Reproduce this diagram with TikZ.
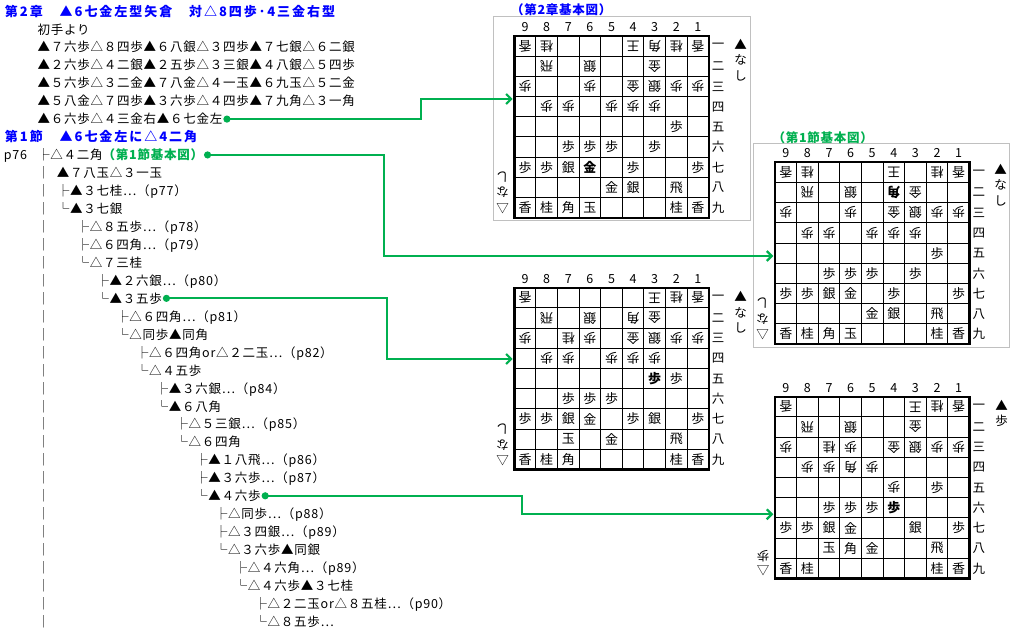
\documentclass[tikz,border=0pt]{standalone}
\usepackage{fontspec}
\setmainfont{Noto Sans CJK JP}
\newfontfamily\tx{Noto Sans CJK JP}[LetterSpace=6]
\newfontfamily\hd{Noto Sans CJK JP}[LetterSpace=15]
\usetikzlibrary{arrows.meta}
\definecolor{ttlblue}{RGB}{0,0,255}
\definecolor{lnkgreen}{RGB}{0,176,80}
\definecolor{framegray}{RGB}{192,192,192}
\newcommand\rowy[1]{16.1+17.95*#1}
\newcommand\lx[1]{37.2+19.75*#1}
\tikzset{
  every node/.style={inner sep=0pt, outer sep=0pt},
  txt/.style={anchor=base west, font=\tx\fontsize{12.5}{15}\selectfont},
  hdr/.style={anchor=base west, text=ttlblue, font=\hd\bfseries\fontsize{13}{15}\selectfont},
  grn/.style={anchor=base west, text=lnkgreen, font=\tx\bfseries\fontsize{12.5}{15}\selectfont},
  btitle/.style={anchor=base west, font=\tx\bfseries\fontsize{12.5}{15}\selectfont},
  pc/.style={font=\fontsize{13}{13}\selectfont},
  pcb/.style={font=\bfseries\fontsize{13}{13}\selectfont},
  lbl/.style={font=\fontsize{12.5}{13}\selectfont},
  gridln/.style={line width=1pt},
  boardln/.style={line width=2.4pt},
  frm/.style={draw=framegray, line width=1pt},
  conn/.style={draw=lnkgreen, line width=2.2pt, -{Straight Barb[length=5pt,width=10pt]}},
  gdot/.style={fill=lnkgreen},
}
\newcommand\shogiban[3]{%
\begin{scope}[shift={(#2,#3)}]
 \foreach \i in {1,...,8}{
  \draw[gridln] ({\i*21.6},0) -- ({\i*21.6},181.8);
  \draw[gridln] (0,{\i*20.2}) -- (194.4,{\i*20.2});
 }
 \draw[boardln] (0,0) rectangle (194.4,181.8);
 \foreach \cn [count=\k] in {9,8,7,6,5,4,3,2,1}
   \node[lbl] (#1c\cn) at ({(\k-0.5)*21.6},-9) {\cn};
 \foreach \rn [count=\k] in {一,二,三,四,五,六,七,八,九}
   \node[lbl] (#1r\k) at (203.8,{(\k-0.5)*20.2}) {\rn};
\end{scope}}
\newcommand\koma[5]{%
 \foreach \xc/\yr/\kj in {#5}
  \node[pc, rotate=#4] (#1p\xc\yr) at ({#2+(9.5-\xc)*21.6},{#3+(\yr-0.5)*20.2}) {\kj};}
\begin{document}
\begin{tikzpicture}[x=1pt,y=-1pt]
\fill[white] (0,0) rectangle (1015,631);
\useasboundingbox (0,0) rectangle (1015,631);

% ---------- left text ----------
\node[hdr] (h0) at (5,{\rowy{0}}) {第2章　▲6七金左型矢倉　対△8四歩･4三金右型};
\node[txt] (l1) at (37.7,{\rowy{1}}) {初手より};
\node[txt] (l2) at (37.7,{\rowy{2}}) {▲７六歩△８四歩▲６八銀△３四歩▲７七銀△６二銀};
\node[txt] (l3) at (37.7,{\rowy{3}}) {▲２六歩△４二銀▲２五歩△３三銀▲４八銀△５四歩};
\node[txt] (l4) at (37.7,{\rowy{4}}) {▲５六歩△３二金▲７八金△４一玉▲６九玉△５二金};
\node[txt] (l5) at (37.7,{\rowy{5}}) {▲５八金△７四歩▲３六歩△４四歩▲７九角△３一角};
\node[txt] (l6) at (37.7,{\rowy{6}}) {▲６六歩△４三金右▲６七金左};
\node[hdr] (h7) at (5,{\rowy{7}}) {第1節　▲6七金左に△4二角};
\node[txt] (p76) at (4,{\rowy{8}}) {p76};
\node[txt] (l8) at ({\lx{0}},{\rowy{8}}) {├△４二角};
\node[grn] (l8g) at (l8.base east) {（第1節基本図）};
\foreach \n in {9,...,34}
  \node[txt] (bar\n) at ({\lx{0}},{\rowy{\n}}) {│};
\foreach \lv/\n/\s in {
  1/9/{▲７八玉△３一玉},
  1/10/{├▲３七桂…（p77）},
  1/11/{└▲３七銀},
  2/12/{├△８五歩…（p78）},
  2/13/{├△６四角…（p79）},
  2/14/{└△７三桂},
  3/15/{├▲２六銀…（p80）},
  3/16/{└▲３五歩},
  4/17/{├△６四角…（p81）},
  4/18/{└△同歩▲同角},
  5/19/{├△６四角or△２二玉…（p82）},
  5/20/{└△４五歩},
  6/21/{├▲３六銀…（p84）},
  6/22/{└▲６八角},
  7/23/{├△５三銀…（p85）},
  7/24/{└△６四角},
  8/25/{├▲１八飛…（p86）},
  8/26/{├▲３六歩…（p87）},
  8/27/{└▲４六歩},
  9/28/{├△同歩…（p88）},
  9/29/{├△３四銀…（p89）},
  9/30/{└△３六歩▲同銀},
  10/31/{├△４六角…（p89）},
  10/32/{└△４六歩▲３七桂},
  11/33/{├△２二玉or△８五桂…（p90）},
  11/34/{└△８五歩…}}
  \node[txt] (t\n) at ({\lx{\lv}},{\rowy{\n}}) {\s};

% ---------- frames and titles ----------
\draw[frm] (493.7,17) rectangle (750,220.7);
\draw[frm] (753.3,144) rectangle (1009.7,347);
\node[btitle, text=ttlblue] (ti1) at (511,14.8) {（第2章基本図）};
\node[btitle, text=lnkgreen] (ti2) at (772.5,142.8) {（第1節基本図）};

% ---------- board 1 ----------
\shogiban{b1}{514.3}{36}
\koma{b1}{514.3}{36}{180}{9/1/香,8/1/桂,4/1/王,3/1/角,2/1/桂,1/1/香,8/2/飛,6/2/銀,3/2/金,9/3/歩,6/3/歩,4/3/金,3/3/銀,2/3/歩,1/3/歩,8/4/歩,7/4/歩,5/4/歩,4/4/歩,3/4/歩}
\koma{b1}{514.3}{36}{0}{2/5/歩,7/6/歩,6/6/歩,5/6/歩,3/6/歩,9/7/歩,8/7/歩,7/7/銀,4/7/歩,1/7/歩,5/8/金,4/8/銀,2/8/飛,9/9/香,8/9/桂,7/9/角,6/9/玉,2/9/桂,1/9/香}
\node[pcb] (b1p67) at ({514.3+3.5*21.6},{36+6.5*20.2}) {金};
\node[lbl] (b1s1) at (740.7,44) {▲};
\node[lbl] (b1s2) at (740.7,60) {な};
\node[lbl] (b1s3) at (740.7,75.5) {し};
\node[lbl, rotate=180] (b1g1) at (502.7,176.7) {し};
\node[lbl, rotate=180] (b1g2) at (502.7,192.5) {な};
\node[lbl, rotate=180] (b1g3) at (502.7,208.3) {△};

% ---------- board 2 ----------
\shogiban{b2}{775}{162.3}
\koma{b2}{775}{162.3}{180}{9/1/香,8/1/桂,4/1/王,2/1/桂,1/1/香,8/2/飛,6/2/銀,3/2/金,9/3/歩,6/3/歩,4/3/金,3/3/銀,2/3/歩,1/3/歩,8/4/歩,7/4/歩,5/4/歩,4/4/歩,3/4/歩}
\node[pcb, rotate=180] (b2p42) at ({775+5.5*21.6},{162.3+1.5*20.2}) {角};
\koma{b2}{775}{162.3}{0}{2/5/歩,7/6/歩,6/6/歩,5/6/歩,3/6/歩,9/7/歩,8/7/歩,7/7/銀,6/7/金,4/7/歩,1/7/歩,5/8/金,4/8/銀,2/8/飛,9/9/香,8/9/桂,7/9/角,6/9/玉,2/9/桂,1/9/香}
\node[lbl] (b2s1) at (1000.7,169) {▲};
\node[lbl] (b2s2) at (1000.7,185) {な};
\node[lbl] (b2s3) at (1000.7,200.5) {し};
\node[lbl, rotate=180] (b2g1) at (762.5,303.3) {し};
\node[lbl, rotate=180] (b2g2) at (762.5,319) {な};
\node[lbl, rotate=180] (b2g3) at (762.5,335) {△};

% ---------- board 3 ----------
\shogiban{b3}{514.3}{287.7}
\koma{b3}{514.3}{287.7}{180}{9/1/香,3/1/王,2/1/桂,1/1/香,8/2/飛,6/2/銀,4/2/角,3/2/金,9/3/歩,7/3/桂,6/3/歩,4/3/金,3/3/銀,2/3/歩,1/3/歩,8/4/歩,7/4/歩,5/4/歩,4/4/歩,3/4/歩}
\node[pcb] (b3p35) at ({514.3+6.5*21.6},{287.7+4.5*20.2}) {歩};
\koma{b3}{514.3}{287.7}{0}{2/5/歩,7/6/歩,6/6/歩,5/6/歩,9/7/歩,8/7/歩,7/7/銀,6/7/金,4/7/歩,3/7/銀,1/7/歩,7/8/玉,5/8/金,2/8/飛,9/9/香,8/9/桂,7/9/角,2/9/桂,1/9/香}
\node[lbl] (b3s1) at (740.7,296.5) {▲};
\node[lbl] (b3s2) at (740.7,312.5) {な};
\node[lbl] (b3s3) at (740.7,327.5) {し};
\node[lbl, rotate=180] (b3g1) at (502.7,429.5) {し};
\node[lbl, rotate=180] (b3g2) at (502.7,445.5) {な};
\node[lbl, rotate=180] (b3g3) at (502.7,461) {△};

% ---------- board 4 ----------
\shogiban{b4}{775}{396.7}
\koma{b4}{775}{396.7}{180}{9/1/香,3/1/王,2/1/桂,1/1/香,8/2/飛,6/2/銀,3/2/金,9/3/歩,7/3/桂,6/3/歩,4/3/金,3/3/銀,2/3/歩,1/3/歩,8/4/歩,7/4/歩,6/4/角,5/4/歩,4/5/歩}
\node[pcb] (b4p46) at ({775+5.5*21.6},{396.7+5.5*20.2}) {歩};
\koma{b4}{775}{396.7}{0}{2/5/歩,7/6/歩,6/6/歩,5/6/歩,9/7/歩,8/7/歩,7/7/銀,6/7/金,3/7/銀,1/7/歩,7/8/玉,6/8/角,5/8/金,2/8/飛,9/9/香,8/9/桂,2/9/桂,1/9/香}
\node[lbl] (b4s1) at (1001.7,405) {▲};
\node[lbl] (b4s2) at (1001.7,421) {歩};
\node[lbl, rotate=180] (b4g1) at (763,556.5) {歩};
\node[lbl, rotate=180] (b4g2) at (763,571) {△};

% ---------- connectors ----------
\coordinate (d1) at ([xshift=4.5pt]l6.east);
\coordinate (d2) at ([xshift=4.5pt]l8g.east);
\coordinate (d3) at ([xshift=4.5pt]t16.east);
\coordinate (d4) at ([xshift=4.5pt]t27.east);
\coordinate (k1) at (420.7,0);
\coordinate (k2) at (384.3,0);
\coordinate (k3) at (387.3,0);
\coordinate (k4) at (522.3,0);
\coordinate (a1) at (512.7,99);
\coordinate (a2) at (773.3,256);
\coordinate (a3) at (512.7,359);
\coordinate (a4) at (773.3,514.3);
\draw[conn] (d1) -- (d1 -| k1) |- (a1);
\draw[conn] (d2) -- (d2 -| k2) |- (a2);
\draw[conn] (d3) -- (d3 -| k3) |- (a3);
\draw[conn] (d4) -- (d4 -| k4) |- (a4);
\foreach \d in {d1,d2,d3,d4} \fill[gdot] (\d) circle [radius=3.6pt];
\end{tikzpicture}
\end{document}
